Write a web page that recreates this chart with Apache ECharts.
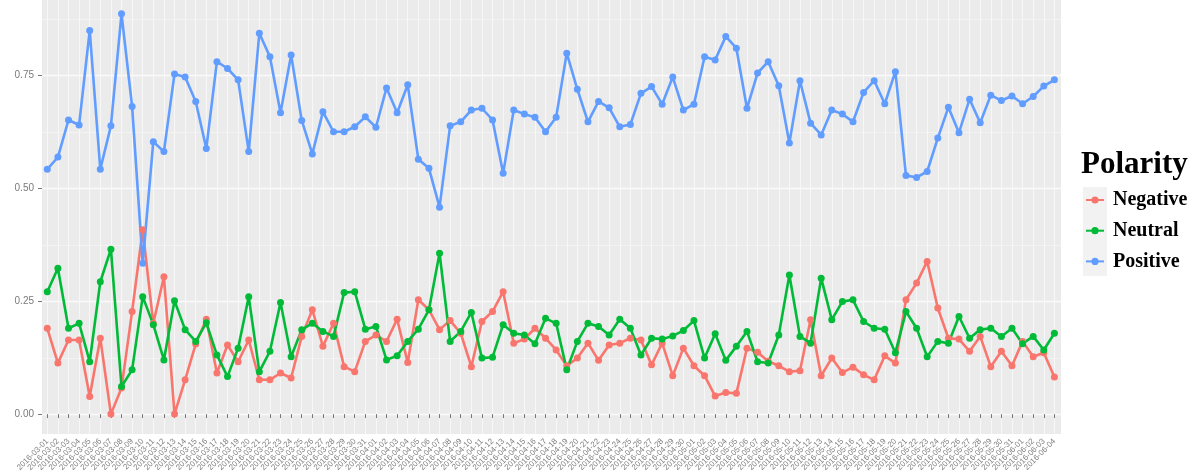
<!DOCTYPE html>
<html lang="en">

<head>
    <meta charset="UTF-8">
    <title>Polarity</title>
    <style>
        * {
            margin: 0;
            padding: 0;
        }

        body {
            background-color: white;
        }

        .box {
            width: 1203px;
            height: 474px;
        }
    </style>
    <script src="https://cdn.jsdelivr.net/npm/echarts@6.0.0/dist/echarts.min.js"></script>
</head>

<body>

<div class="box" id="main"></div>
<script>
    // categories (days) - the original tick labels are not readable
    var days = [
        '2016-03-01', '2016-03-02', '2016-03-03', '2016-03-04', '2016-03-05', '2016-03-06', '2016-03-07', '2016-03-08',
        '2016-03-09', '2016-03-10', '2016-03-11', '2016-03-12', '2016-03-13', '2016-03-14', '2016-03-15', '2016-03-16',
        '2016-03-17', '2016-03-18', '2016-03-19', '2016-03-20', '2016-03-21', '2016-03-22', '2016-03-23', '2016-03-24',
        '2016-03-25', '2016-03-26', '2016-03-27', '2016-03-28', '2016-03-29', '2016-03-30', '2016-03-31', '2016-04-01',
        '2016-04-02', '2016-04-03', '2016-04-04', '2016-04-05', '2016-04-06', '2016-04-07', '2016-04-08', '2016-04-09',
        '2016-04-10', '2016-04-11', '2016-04-12', '2016-04-13', '2016-04-14', '2016-04-15', '2016-04-16', '2016-04-17',
        '2016-04-18', '2016-04-19', '2016-04-20', '2016-04-21', '2016-04-22', '2016-04-23', '2016-04-24', '2016-04-25',
        '2016-04-26', '2016-04-27', '2016-04-28', '2016-04-29', '2016-04-30', '2016-05-01', '2016-05-02', '2016-05-03',
        '2016-05-04', '2016-05-05', '2016-05-06', '2016-05-07', '2016-05-08', '2016-05-09', '2016-05-10', '2016-05-11',
        '2016-05-12', '2016-05-13', '2016-05-14', '2016-05-15', '2016-05-16', '2016-05-17', '2016-05-18', '2016-05-19',
        '2016-05-20', '2016-05-21', '2016-05-22', '2016-05-23', '2016-05-24', '2016-05-25', '2016-05-26', '2016-05-27',
        '2016-05-28', '2016-05-29', '2016-05-30', '2016-05-31', '2016-06-01', '2016-06-02', '2016-06-03', '2016-06-04'
    ];

    var negative = [
        0.190, 0.113, 0.164, 0.164, 0.039, 0.168, 0.000, 0.058, 0.227, 0.408, 0.201, 0.304,
        0.000, 0.076, 0.155, 0.210, 0.091, 0.153, 0.116, 0.164, 0.076, 0.076, 0.091, 0.080,
        0.172, 0.231, 0.150, 0.201, 0.105, 0.094, 0.161, 0.175, 0.161, 0.210, 0.114, 0.253,
        0.231, 0.187, 0.207, 0.179, 0.105, 0.205, 0.227, 0.271, 0.157, 0.166, 0.190, 0.168,
        0.142, 0.107, 0.124, 0.157, 0.119, 0.153, 0.157, 0.168, 0.164, 0.109, 0.157, 0.085,
        0.146, 0.107, 0.085, 0.040, 0.048, 0.046, 0.146, 0.137, 0.117, 0.107, 0.094, 0.096,
        0.209, 0.085, 0.124, 0.092, 0.104, 0.087, 0.076, 0.129, 0.113, 0.253, 0.290, 0.338,
        0.235, 0.168, 0.166, 0.139, 0.172, 0.105, 0.139, 0.107, 0.161, 0.127, 0.136, 0.082
    ];

    var neutral = [
        0.271, 0.323, 0.190, 0.201, 0.116, 0.293, 0.365, 0.061, 0.098, 0.260, 0.198, 0.120,
        0.251, 0.187, 0.161, 0.202, 0.131, 0.083, 0.146, 0.260, 0.094, 0.139, 0.247, 0.127,
        0.187, 0.201, 0.183, 0.172, 0.269, 0.271, 0.188, 0.194, 0.120, 0.129, 0.161, 0.188,
        0.231, 0.356, 0.161, 0.183, 0.225, 0.124, 0.126, 0.198, 0.179, 0.175, 0.156, 0.212,
        0.201, 0.098, 0.161, 0.201, 0.194, 0.175, 0.210, 0.190, 0.131, 0.168, 0.166, 0.173,
        0.185, 0.207, 0.124, 0.178, 0.119, 0.150, 0.183, 0.116, 0.113, 0.175, 0.308, 0.172,
        0.157, 0.301, 0.209, 0.249, 0.253, 0.205, 0.190, 0.188, 0.136, 0.227, 0.190, 0.127,
        0.161, 0.157, 0.216, 0.168, 0.187, 0.190, 0.172, 0.190, 0.156, 0.172, 0.142, 0.179
    ];

    var positive = [
        0.542, 0.569, 0.651, 0.640, 0.849, 0.542, 0.638, 0.886, 0.681, 0.334, 0.603, 0.581,
        0.753, 0.746, 0.692, 0.588, 0.780, 0.765, 0.740, 0.581, 0.843, 0.791, 0.667, 0.795,
        0.650, 0.576, 0.669, 0.625, 0.625, 0.636, 0.658, 0.635, 0.722, 0.667, 0.729, 0.564,
        0.544, 0.458, 0.638, 0.647, 0.673, 0.677, 0.651, 0.533, 0.673, 0.664, 0.657, 0.625,
        0.657, 0.799, 0.719, 0.647, 0.692, 0.678, 0.636, 0.641, 0.710, 0.725, 0.686, 0.746,
        0.673, 0.686, 0.791, 0.784, 0.836, 0.810, 0.677, 0.755, 0.780, 0.727, 0.600, 0.738,
        0.644, 0.618, 0.673, 0.664, 0.647, 0.712, 0.738, 0.687, 0.758, 0.528, 0.524, 0.537,
        0.611, 0.679, 0.623, 0.697, 0.645, 0.706, 0.694, 0.704, 0.687, 0.703, 0.726, 0.740
    ];

    var names = ['Negative', 'Neutral', 'Positive'];
    var colors = ['#F8766D', '#00BA38', '#619CFF'];

    var myChart = echarts.init(document.getElementById('main'));

    // panel: x 42..1061, y 0..434 ; value 0 at y 414.3, 452 px per unit
    var hidden = { show: false, type: 'value', min: 0, max: 1 };

    function lineSeries(i, values) {
        return {
            name: names[i],
            type: 'line',
            xAxisIndex: 3,
            yAxisIndex: 3,
            data: values,
            clip: false,
            symbol: 'circle',
            symbolSize: 7,
            lineStyle: { width: 2.6, color: colors[i] },
            itemStyle: { color: colors[i] }
        };
    }

    var option = {
        animation: false,
        backgroundColor: '#ffffff',
        title: {
            text: 'Polarity',
            left: 1081,
            top: 149,
            padding: 0,
            textStyle: {
                fontFamily: 'Liberation Serif',
                fontWeight: 'bold',
                fontSize: 31,
                color: '#000'
            }
        },
        legend: {
            data: names,
            orient: 'vertical',
            left: 1085,
            top: 190,
            padding: 0,
            itemWidth: 18,
            itemHeight: 9,
            itemGap: 10.7,
            textStyle: {
                fontFamily: 'Liberation Serif',
                fontWeight: 'bold',
                fontSize: 20,
                lineHeight: 20,
                color: '#000',
                padding: [0, 0, 0, 4]
            }
        },
        graphic: [
            {
                type: 'rect',
                left: 1083,
                top: 187,
                z: -10,
                shape: { width: 24, height: 89 },
                style: { fill: '#F2F2F2' }
            }
        ],
        grid: [
            // gray panel
            { left: 42, right: 142, top: 0, bottom: 40, show: true, backgroundColor: '#EBEBEB', borderWidth: 0 },
            // minor horizontal lines 0 .. 0.875
            { left: 42, right: 142, top: 18.8, height: 395.5 },
            // major horizontal lines + labels 0 .. 0.75
            { left: 42, right: 142, top: 75.3, height: 339 },
            // data
            { left: 47.3, right: 148.6, top: 0, bottom: 40 }
        ],
        xAxis: [
            Object.assign({ gridIndex: 0 }, hidden),
            Object.assign({ gridIndex: 1 }, hidden),
            Object.assign({ gridIndex: 2 }, hidden),
            {
                gridIndex: 3,
                type: 'category',
                boundaryGap: false,
                data: days,
                axisLine: { show: false },
                axisTick: { show: true, interval: 0, length: 4, lineStyle: { color: '#777' } },
                axisLabel: {
                    interval: 0,
                    rotate: 45,
                    margin: 6,
                    fontSize: 8,
                    fontFamily: 'Liberation Sans',
                    color: '#808080'
                },
                splitLine: { show: true, interval: 0, lineStyle: { color: '#F7F7F7', width: 1 } }
            }
        ],
        yAxis: [
            Object.assign({ gridIndex: 0 }, hidden),
            {
                gridIndex: 1,
                type: 'value',
                min: 0,
                max: 0.875,
                interval: 0.125,
                axisLine: { show: false },
                axisTick: { show: false },
                axisLabel: { show: false },
                splitLine: { show: true, lineStyle: { color: '#F5F5F5', width: 0.8 } }
            },
            {
                gridIndex: 2,
                type: 'value',
                min: 0,
                max: 0.75,
                interval: 0.25,
                axisLine: { show: false },
                axisTick: { show: true, length: 4, lineStyle: { color: '#777' } },
                axisLabel: {
                    margin: 8,
                    fontSize: 10,
                    fontFamily: 'Liberation Sans',
                    color: '#7a7a7a',
                    formatter: function (v) {
                        return v.toFixed(2);
                    }
                },
                splitLine: { show: true, lineStyle: { color: '#FAFAFA', width: 1.4 } }
            },
            {
                gridIndex: 3,
                type: 'value',
                min: -0.044,
                max: 0.9166,
                show: false
            }
        ],
        series: [
            lineSeries(0, negative),
            lineSeries(1, neutral),
            lineSeries(2, positive)
        ]
    };

    myChart.setOption(option);
</script>

</body>

</html>
